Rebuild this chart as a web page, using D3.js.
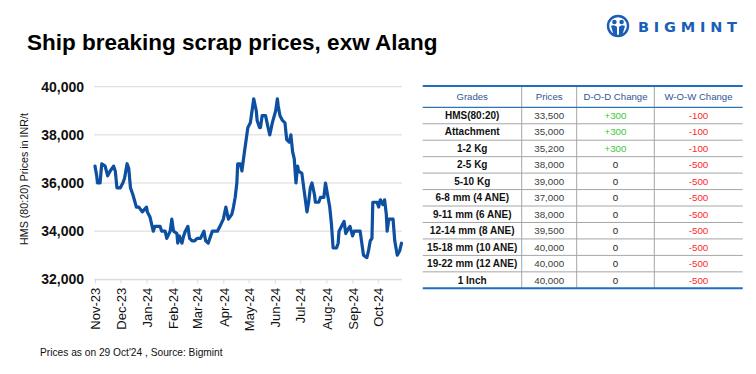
<!DOCTYPE html>
<html>
<head>
<meta charset="utf-8">
<script src="https://cdn.jsdelivr.net/npm/d3@7"></script>
<style>
  html, body { margin: 0; padding: 0; background: #fff; }
  svg { display: block; font-family: "Liberation Sans", Arial, sans-serif; }
</style>
</head>
<body>
<svg id="chart" width="756" height="374"></svg>
<script>
// HMS (80:20) daily series
const dates = [
  "2023-11-01","2023-11-03","2023-11-04","2023-11-07","2023-11-09","2023-11-13","2023-11-16","2023-11-19","2023-11-23","2023-11-25","2023-11-27",
  "2023-12-01","2023-12-04","2023-12-06","2023-12-09","2023-12-11","2023-12-13","2023-12-16","2023-12-20","2023-12-23","2023-12-27",
  "2024-01-01","2024-01-02","2024-01-05","2024-01-09","2024-01-11","2024-01-17","2024-01-19","2024-01-23","2024-01-25","2024-01-29","2024-01-31",
  "2024-02-02","2024-02-06","2024-02-07","2024-02-09","2024-02-12","2024-02-14","2024-02-16","2024-02-19","2024-02-21","2024-02-24","2024-02-27",
  "2024-03-01","2024-03-05","2024-03-09","2024-03-11","2024-03-14","2024-03-16","2024-03-19","2024-03-25","2024-03-28",
  "2024-04-01","2024-04-04","2024-04-07","2024-04-11","2024-04-13","2024-04-15","2024-04-17","2024-04-18","2024-04-21","2024-04-23","2024-04-26","2024-04-28","2024-04-30",
  "2024-05-03","2024-05-05","2024-05-07","2024-05-10","2024-05-11","2024-05-14","2024-05-15","2024-05-17","2024-05-21","2024-05-24","2024-05-26","2024-05-29",
  "2024-06-02","2024-06-04","2024-06-05","2024-06-07","2024-06-10","2024-06-13","2024-06-15","2024-06-18","2024-06-20","2024-06-22","2024-06-24","2024-06-26","2024-06-28","2024-06-29",
  "2024-07-03","2024-07-06","2024-07-09","2024-07-11","2024-07-13","2024-07-15","2024-07-18","2024-07-19","2024-07-23","2024-07-25","2024-07-29","2024-07-31",
  "2024-08-03","2024-08-05","2024-08-07","2024-08-09","2024-08-13","2024-08-15","2024-08-16","2024-08-19","2024-08-22","2024-08-24","2024-08-27","2024-08-29",
  "2024-09-01","2024-09-03","2024-09-10","2024-09-12","2024-09-14","2024-09-18","2024-09-20","2024-09-22","2024-09-24","2024-09-25","2024-09-30",
  "2024-10-02","2024-10-03","2024-10-04","2024-10-07","2024-10-09","2024-10-11","2024-10-12","2024-10-14","2024-10-19","2024-10-21","2024-10-24","2024-10-27","2024-10-29"
];
const hmsPrices = [
  36700,36300,36000,36000,36800,36700,36300,36500,36700,36500,35800,
  35800,36000,36200,36800,36600,35800,35500,35000,35000,34800,
  35000,34800,34600,34000,34200,34200,34000,34000,33700,34000,34500,
  34000,33900,33500,33800,33500,33800,34000,34200,33700,33600,33600,
  33700,33700,34000,33600,33500,33700,34000,34000,34200,
  34500,35000,34500,34700,35000,35400,36000,36800,36800,36500,37300,37800,38300,
  38500,39000,39500,39000,38600,38300,38300,38800,38800,38300,38000,38500,
  39000,39500,39200,38800,38600,38500,37800,37700,38000,37300,37000,36000,36700,36500,
  36400,35600,34800,35200,35800,36000,35500,35200,35200,35400,35400,36000,
  35400,35000,34300,33300,33300,33500,34000,34200,34400,33900,34100,34200,
  33800,34000,34000,33500,33000,32900,33200,33600,33700,35200,35200,
  35000,35200,35300,35100,35300,34700,34000,34500,34500,33600,33000,33200,33500
];
const yTicks = [32000, 34000, 36000, 38000, 40000];

// table
const tableHeads = ["Grades", "Prices", "D-O-D Change", "W-O-W Change"];
const grades = ["HMS(80:20)", "Attachment", "1-2 Kg", "2-5 Kg", "5-10 Kg", "6-8 mm (4 ANE)", "9-11 mm (6 ANE)",
  "12-14 mm (8 ANE)", "15-18 mm (10 ANE)", "19-22 mm (12 ANE)", "1 Inch"];
const gradePrices = ["33,500", "35,000", "35,200", "38,000", "39,000", "37,000", "38,000", "39,500", "40,000", "40,000", "40,000"];
const dodChange = ["+300", "+300", "+300", "0", "0", "0", "0", "0", "0", "0", "0"];
const wowChange = ["-100", "-100", "-100", "-500", "-500", "-500", "-500", "-500", "-500", "-500", "-500"];

const BLUE = "#0d4fa0";
const svg = d3.select("#chart");
const parse = d3.timeParse("%Y-%m-%d");
const series = dates.map((d, i) => ({ date: parse(d), v: hmsPrices[i] }));

// title + logo
svg.append("text").attr("x", 27).attr("y", 50)
  .style("font-size", "22.5px").style("font-weight", "bold").attr("fill", "#000")
  .text("Ship breaking scrap prices, exw Alang");

const logo = svg.append("g").attr("transform", "translate(618,26)");
logo.append("circle").attr("r", 10).attr("fill", "none").attr("stroke", "#1a5eb8").attr("stroke-width", 2.4);
logo.append("circle").attr("cx", -3.6).attr("cy", -4).attr("r", 2.3).attr("fill", "#1a5eb8");
logo.append("circle").attr("cx", 3.6).attr("cy", -4).attr("r", 2.3).attr("fill", "#1a5eb8");
logo.append("path").attr("d", "M-7,0 Q-3.6,-2 -1,1 L-1,10 L-4,10 Z M7,0 Q3.6,-2 1,1 L1,10 L4,10 Z")
  .attr("fill", "#1a5eb8");
svg.append("text").attr("x", 638).attr("y", 32)
  .style("font-family", "'DejaVu Sans', sans-serif").style("font-size", "14.5px").style("font-weight", "bold")
  .style("letter-spacing", "4.8px").attr("fill", "#1a5eb8").text("BIGMINT");

// scales
const x = d3.scaleTime()
  .domain([parse("2023-11-01"), parse("2024-10-29")])
  .range([95, 401.5]);
const y = d3.scaleLinear().domain([32000, 40000]).range([279.3, 86.7]);

// grid
svg.append("g").selectAll("line").data(yTicks).join("line")
  .attr("x1", 94).attr("x2", 402)
  .attr("y1", d => y(d)).attr("y2", d => y(d))
  .attr("stroke", "#d9d9d9").attr("stroke-width", 1);

// y axis labels
const yAxis = svg.append("g").attr("transform", "translate(84,0)")
  .call(d3.axisLeft(y).tickValues(yTicks).tickFormat(d3.format(",")).tickSize(0).tickPadding(0));
yAxis.select(".domain").remove();
yAxis.selectAll("text").style("font-size", "14px").style("font-weight", "bold")
  .style("font-family", "'Liberation Sans', Arial, sans-serif").attr("fill", "#111");

// x axis
const xAxis = svg.append("g").attr("transform", `translate(0,${y(32000)})`)
  .call(d3.axisBottom(x).ticks(d3.timeMonth.every(1)).tickFormat(d3.timeFormat("%b-%y")).tickSize(4).tickSizeOuter(0));
xAxis.select(".domain").attr("stroke", "#d9d9d9");
xAxis.selectAll(".tick line").attr("stroke", "#d9d9d9");
xAxis.selectAll("text")
  .style("font-size", "13px").style("font-family", "'Liberation Sans', Arial, sans-serif").attr("fill", "#111")
  .attr("transform", "rotate(-90)").attr("text-anchor", "end")
  .attr("x", -8.5).attr("y", 0).attr("dy", "0.36em");

// axis title
svg.append("text").attr("transform", `translate(28,${179}) rotate(-90)`)
  .attr("text-anchor", "middle").style("font-size", "10.7px").attr("fill", "#111")
  .text("HMS (80:20) Prices in INR/t");

// line
svg.append("path").datum(series)
  .attr("d", d3.line().x(d => x(d.date)).y(d => y(d.v)))
  .attr("fill", "none").attr("stroke", BLUE).attr("stroke-width", 3.2)
  .attr("stroke-linejoin", "round").attr("stroke-linecap", "round");

// footer
svg.append("text").attr("x", 40).attr("y", 356)
  .style("font-size", "10.2px").attr("fill", "#111")
  .text("Prices as on 29 Oct'24 , Source: Bigmint");

// table
const colEdges = [422.7, 521.7, 576.7, 654.3, 742.7];
const tTop = 86, headBottom = 107.3, tBottom = 288.3;
const rowY = d3.scaleBand().domain(d3.range(grades.length)).range([headBottom, tBottom]);
const tbl = svg.append("g");

// vertical lines
tbl.selectAll("line.v").data(colEdges.slice(1, -1)).join("line").attr("class", "v")
  .attr("x1", d => d).attr("x2", d => d).attr("y1", tTop).attr("y2", tBottom)
  .attr("stroke", "#a6a6a6").attr("stroke-width", 1);
// row lines
tbl.selectAll("line.h").data(d3.range(1, grades.length)).join("line").attr("class", "h")
  .attr("x1", colEdges[0]).attr("x2", colEdges[4])
  .attr("y1", d => rowY(d)).attr("y2", d => rowY(d))
  .attr("stroke", "#a6a6a6").attr("stroke-width", 1);
[tTop, headBottom, tBottom].forEach((yy, i) => {
  tbl.append("line").attr("x1", colEdges[0]).attr("x2", colEdges[4]).attr("y1", yy).attr("y2", yy)
    .attr("stroke", i === 1 ? "#2e75b6" : "#1f6fc0").attr("stroke-width", i === 1 ? 1.2 : 2);
});

const colMid = i => (colEdges[i] + colEdges[i + 1]) / 2;
tbl.selectAll("text.head").data(tableHeads).join("text").attr("class", "head")
  .attr("x", (d, i) => colMid(i)).attr("y", (tTop + headBottom) / 2).attr("dy", "0.35em")
  .attr("text-anchor", "middle").style("font-size", "9.6px").attr("fill", "#2f5597").text(d => d);

const cols = [grades, gradePrices, dodChange, wowChange];
cols.forEach((vals, ci) => {
  tbl.selectAll(`text.c${ci}`).data(vals).join("text").attr("class", `c${ci}`)
    .attr("x", colMid(ci)).attr("y", (d, i) => rowY(i) + rowY.bandwidth() / 2).attr("dy", "0.35em")
    .attr("text-anchor", "middle")
    .style("font-size", ci === 0 ? "10px" : "9.8px")
    .style("font-weight", ci === 0 ? "bold" : "normal")
    .attr("fill", d => {
      if (ci === 0) return "#111";
      if (ci === 1) return "#404040";
      if (ci === 2) return d.startsWith("+") ? "#3cc83c" : "#222";
      return "#ff2a2a";
    })
    .text(d => d);
});
</script>
</body>
</html>
